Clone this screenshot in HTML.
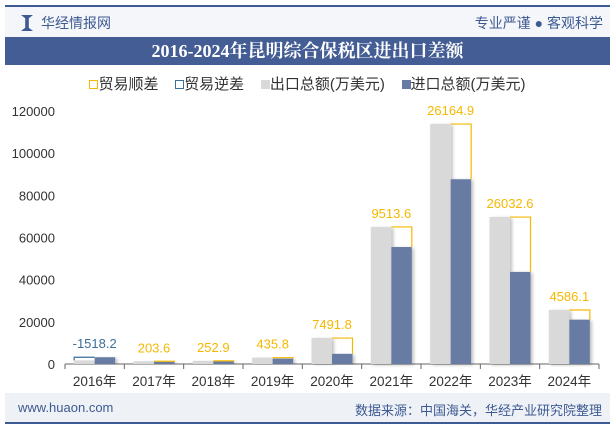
<!DOCTYPE html>
<html><head><meta charset="utf-8">
<style>
body{margin:0;width:615px;height:427px;background:#fff;font-family:"Liberation Sans","Noto Sans CJK SC",sans-serif;overflow:hidden;position:relative}
.abs{position:absolute}
</style></head><body>
<div class="abs" style="left:5px;top:5px;width:605px;height:2px;background:#3d5a92"></div>
<div class="abs" style="left:5px;top:7px;width:605px;height:30px;background:#f4f6f9"></div>
<div class="abs" style="left:21px;top:15px;width:12px;height:16px;background:#3d5a92;clip-path:polygon(0 0,35% 20%,35% 80%,0 100%,100% 100%,65% 80%,65% 20%,100% 0)"></div>
<div class="abs" style="left:41px;top:13px;font-size:14px;color:#3d5a92">华经情报网</div>
<div class="abs" style="right:12px;top:13px;font-size:14px;color:#3d5a92">专业严谨 ● 客观科学</div>
<div class="abs" style="left:5px;top:37px;width:605px;height:28px;background:#445d94;color:#fff;font-size:18px;font-weight:bold;text-align:center;line-height:28px;font-family:'Liberation Serif','Noto Serif CJK SC',serif">2016-2024年昆明综合保税区进出口差额</div>
<div class="abs" style="left:0;top:73px;width:615px;text-align:center;font-size:15px;color:#333">
<span><span style="display:inline-block;width:7px;height:7px;border:1px solid #f5b800"></span>贸易顺差</span>&nbsp;&nbsp;&nbsp;
<span><span style="display:inline-block;width:7px;height:7px;border:1px solid #3a6f9a"></span>贸易逆差</span>&nbsp;&nbsp;&nbsp;
<span><span style="display:inline-block;width:9px;height:9px;background:#d9d9d9"></span>出口总额(万美元)</span>&nbsp;&nbsp;&nbsp;
<span><span style="display:inline-block;width:9px;height:9px;background:#687ca3"></span>进口总额(万美元)</span>
</div>
<svg class="abs" style="left:0;top:0" width="615" height="427">
<defs><filter id="sh" x="-20%" y="-5%" width="150%" height="110%"><feDropShadow dx="2" dy="1" stdDeviation="1.5" flood-color="#000" flood-opacity="0.25"/></filter></defs>
<g id="g"></g>
</svg>
<div class="abs" style="left:5px;top:393px;width:605px;height:29px;background:#eef1f6"></div>
<div class="abs" style="left:18px;top:400px;font-size:13px;color:#3d5a92">www.huaon.com</div>
<div class="abs" style="right:13px;top:400px;font-size:13px;color:#3d5a92">数据来源：中国海关，华经产业研究院整理</div>
<div class="abs" style="left:5px;top:422px;width:605px;height:2px;background:#3d5a92"></div>
<script>
const categories=["2016年","2017年","2018年","2019年","2020年","2021年","2022年","2023年","2024年"];
const exportVals=[1700,1300,1500,3000,12300,65000,113800,69700,25600];
const importVals=[3218,1096,1247,2564,4808,55486,87635,43667,21014];
const diffVals=[-1518.2,203.6,252.9,435.8,7491.8,9513.6,26164.9,26032.6,4586.1];
const yTicks=[0,20000,40000,60000,80000,100000,120000];
const NS="http://www.w3.org/2000/svg",g=document.getElementById('g');
const x0=65,x1=599,y0=364,yTop=111,step=(x1-x0)/categories.length,bw=20.5;
const y=v=>y0-(v/120000)*(y0-yTop);
const cx=i=>x0+step*(i+0.5);
function mk(t,a){const e=document.createElementNS(NS,t);for(const k in a)e.setAttribute(k,a[k]);g.appendChild(e);return e;}
yTicks.forEach(v=>{const t=mk('text',{x:55,y:y(v)+5,'text-anchor':'end','font-size':13,fill:'#333'});t.textContent=v;

});
const ax=mk('line',{x1:x0,y1:y0,x2:x1,y2:y0,stroke:'#666'});


for(let i=0;i<=categories.length;i++){const tk=mk('line',{x1:x0+step*i,y1:y0,x2:x0+step*i,y2:y0+5,stroke:'#666'});

}
categories.forEach((c,i)=>{
 const ex=exportVals[i],im=importVals[i],d=diffVals[i],c0=cx(i);
 const eb=mk('rect',{x:c0-bw,y:y(ex),width:bw,height:y0-y(ex),fill:'#d9d9d9',filter:'url(#sh)'});
 
 
 const ib=mk('rect',{x:c0,y:y(im),width:bw,height:y0-y(im),fill:'#687ca3',filter:'url(#sh)'});
 
 
 const col=d>=0?'#f5b800':'#3a6f9a';
 const top=Math.min(y(ex),y(im)),bot=Math.max(y(ex),y(im));
 let pts;
 if(d>=0) pts=`${c0},${top} ${c0+bw},${top} ${c0+bw},${bot}`;
 else pts=`${c0},${top} ${c0-bw},${top} ${c0-bw},${bot}`;
 const bx=mk('polyline',{points:pts,fill:'none',stroke:col,'stroke-width':1.2});
 
 
 const lb=mk('text',{x:c0,y:top-9,'text-anchor':'middle','font-size':13,fill:col});lb.textContent=d;
 
 
 const xl=mk('text',{x:c0,y:386,'text-anchor':'middle','font-size':13.5,fill:'#333'});xl.textContent=c;
 
 
});
</script>
</body></html>
